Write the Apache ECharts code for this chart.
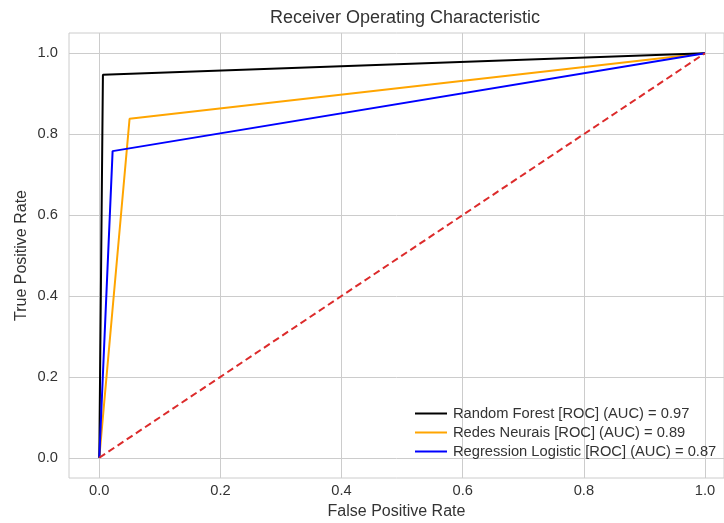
<!DOCTYPE html>
<html>
<head>
<meta charset="utf-8">
<script src="https://cdn.jsdelivr.net/npm/echarts@6/dist/echarts.min.js"></script>
<style>
  html, body { margin: 0; padding: 0; background: #fff; }
  #chart { width: 724px; height: 523px; }
</style>
</head>
<body>
<div id="chart"></div>
<script>
// ROC curves
var fprRF = [0, 0.006, 1]
var tprRF = [0, 0.947, 1]
var fprNN = [0, 0.050, 1]
var tprNN = [0, 0.838, 1]
var fprLR = [0, 0.022, 1]
var tprLR = [0, 0.758, 1]
var diagX = [0, 1]
var diagY = [0, 1]
var ticks = [0, 0.2, 0.4, 0.6, 0.8, 1.0]

var names = [
  'Random Forest [ROC] (AUC) = 0.97',
  'Redes Neurais [ROC] (AUC) = 0.89',
  'Regression Logistic [ROC] (AUC) = 0.87'
]

var FONT = 'Liberation Sans, Arial, sans-serif'

function pairs(xs, ys) {
  return xs.map(function (x, i) { return [x, ys[i]] })
}

var chart = echarts.init(document.getElementById('chart'))

var axisCommon = {
  type: 'value',
  min: -0.05,
  max: 1.05,
  axisLine: { show: false },
  axisTick: { show: false, customValues: ticks },
  axisLabel: {
    customValues: ticks,
    color: '#333',
    fontSize: 14.7,
    fontFamily: FONT,
    formatter: function (v) { return v.toFixed(1) }
  },
  splitLine: { show: true, lineStyle: { color: '#cccccc', width: 1 } },
  nameLocation: 'middle',
  nameTextStyle: { color: '#333', fontSize: 16, fontFamily: FONT }
}

chart.setOption({
  animation: false,
  title: {
    text: 'Receiver Operating Characteristic',
    left: 400,
    top: 4,
    textAlign: 'center',
    textStyle: { color: '#333', fontSize: 18, fontWeight: 'normal', fontFamily: FONT }
  },
  grid: {
    left: 69, right: 0, top: 33, bottom: 45,
    outerBoundsMode: 'none',
    containLabel: false,
    show: true, borderColor: '#cccccc', borderWidth: 1
  },
  legend: {
    orient: 'vertical',
    left: 410,
    top: 400,
    itemWidth: 32,
    itemHeight: 2,
    itemGap: 2,
    icon: 'rect',
    data: names,
    textStyle: { color: '#333', fontSize: 14.7, lineHeight: 17, padding: [0, 0, 0, 1], fontFamily: FONT }
  },
  xAxis: Object.assign({}, axisCommon, {
    // plot area is cut off at the right edge of the image
    max: 1.0314,
    name: 'False Positive Rate',
    nameGap: 26,
    axisLabel: Object.assign({}, axisCommon.axisLabel, { margin: 5 })
  }),
  yAxis: Object.assign({}, axisCommon, {
    name: 'True Positive Rate',
    nameGap: 39,
    nameMoveOverlap: false,
    axisLabel: Object.assign({}, axisCommon.axisLabel, { margin: 11 })
  }),
  series: [
    {
      name: names[0], type: 'line', data: pairs(fprRF, tprRF),
      showSymbol: false, color: '#000000', lineStyle: { width: 2 }, z: 4
    },
    {
      name: names[1], type: 'line', data: pairs(fprNN, tprNN),
      showSymbol: false, color: '#ffa500', lineStyle: { width: 2 }, z: 3
    },
    {
      name: names[2], type: 'line', data: pairs(fprLR, tprLR),
      showSymbol: false, color: '#0000ff', lineStyle: { width: 2 }, z: 5
    },
    {
      name: 'diag', type: 'line', data: pairs(diagX, diagY),
      showSymbol: false, color: '#dc2b2b', lineStyle: { width: 2, type: [7, 4] }, z: 6
    }
  ]
})
</script>
</body>
</html>
